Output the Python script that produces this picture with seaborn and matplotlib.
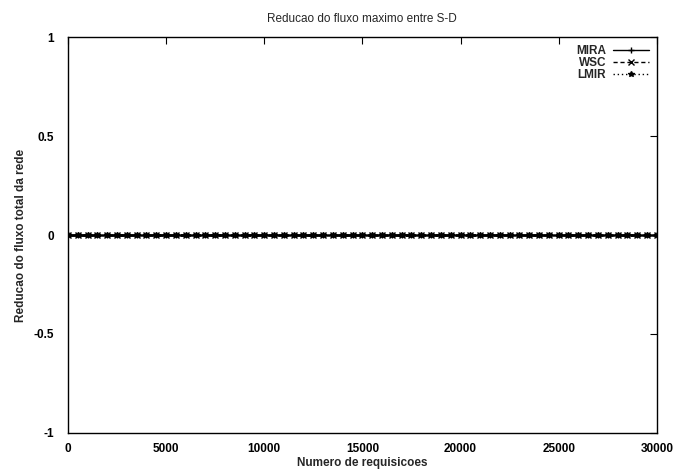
import matplotlib
matplotlib.use("Agg")
import matplotlib.pyplot as plt
import seaborn as sns
import pandas as pd

# Number of requests at which the reduction was sampled
requisicoes = [
    0, 500, 1000, 1500, 2000, 2500, 3000, 3500, 4000, 4500,
    5000, 5500, 6000, 6500, 7000, 7500, 8000, 8500, 9000, 9500,
    10000, 10500, 11000, 11500, 12000, 12500, 13000, 13500, 14000, 14500,
    15000, 15500, 16000, 16500, 17000, 17500, 18000, 18500, 19000, 19500,
    20000, 20500, 21000, 21500, 22000, 22500, 23000, 23500, 24000, 24500,
    25000, 25500, 26000, 26500, 27000, 27500, 28000, 28500, 29000, 29500,
    30000,
]

# Reduction of the total network flow for each algorithm
mira = [
    0, 0, 0, 0, 0, 0, 0, 0, 0, 0, 0, 0, 0, 0, 0, 0, 0, 0, 0, 0,
    0, 0, 0, 0, 0, 0, 0, 0, 0, 0, 0, 0, 0, 0, 0, 0, 0, 0, 0, 0,
    0, 0, 0, 0, 0, 0, 0, 0, 0, 0, 0, 0, 0, 0, 0, 0, 0, 0, 0, 0, 0,
]
wsc = [
    0, 0, 0, 0, 0, 0, 0, 0, 0, 0, 0, 0, 0, 0, 0, 0, 0, 0, 0, 0,
    0, 0, 0, 0, 0, 0, 0, 0, 0, 0, 0, 0, 0, 0, 0, 0, 0, 0, 0, 0,
    0, 0, 0, 0, 0, 0, 0, 0, 0, 0, 0, 0, 0, 0, 0, 0, 0, 0, 0, 0, 0,
]
lmir = [
    0, 0, 0, 0, 0, 0, 0, 0, 0, 0, 0, 0, 0, 0, 0, 0, 0, 0, 0, 0,
    0, 0, 0, 0, 0, 0, 0, 0, 0, 0, 0, 0, 0, 0, 0, 0, 0, 0, 0, 0,
    0, 0, 0, 0, 0, 0, 0, 0, 0, 0, 0, 0, 0, 0, 0, 0, 0, 0, 0, 0, 0,
]

algoritmos = ["MIRA", "WSC", "LMIR"]
marcadores = {"MIRA": "+", "WSC": "x", "LMIR": "*"}
tracos = {"MIRA": "", "WSC": (3, 2), "LMIR": (1, 2)}
x_ticks = [0, 5000, 10000, 15000, 20000, 25000, 30000]
y_ticks = [-1, -0.5, 0, 0.5, 1]
y_tick_labels = ["-1", "-0.5", "0", "0.5", "1"]

sns.set_theme(style="white")
plt.rcParams["font.family"] = ["Liberation Sans", "DejaVu Sans"]

df = pd.DataFrame({
    "req": requisicoes * 3,
    "val": mira + wsc + lmir,
    "alg": ["MIRA"] * len(mira) + ["WSC"] * len(wsc) + ["LMIR"] * len(lmir),
})

fig = plt.figure(figsize=(6.75, 4.71), dpi=100)
ax = fig.add_axes([0.1007, 0.0807, 0.8723, 0.8407])

for name in algoritmos:
    sns.lineplot(
        data=df[df["alg"] == name], x="req", y="val",
        hue="alg", style="alg", palette={name: "black"},
        markers={name: marcadores[name]}, dashes={name: tracos[name]},
        linewidth=1.8, markersize=4, markeredgewidth=1.0,
        markeredgecolor="black", ax=ax,
    )

ax.set_xlim(0, 30000)
ax.set_ylim(-1, 1)
ax.set_xticks(x_ticks)
ax.set_xticklabels([str(t) for t in x_ticks])
ax.set_yticks(y_ticks)
ax.set_yticklabels(y_tick_labels)
ax.tick_params(direction="in", length=5, width=0.8, top=True, right=True,
               labelsize=8.5, colors="black")
ax.tick_params(axis="x", pad=7)
ax.tick_params(axis="y", pad=10)
for lbl in ax.get_xticklabels() + ax.get_yticklabels():
    lbl.set_fontweight("bold")
for sp in ax.spines.values():
    sp.set_color("black")
    sp.set_linewidth(1.0)

ax.set_title("Reducao do fluxo maximo entre S-D", fontsize=8.5, pad=11)
ax.set_xlabel("Numero de requisicoes", fontsize=8.5, fontweight="bold", labelpad=1.5)
ax.set_ylabel("Reducao do fluxo total da rede", fontsize=8.5, fontweight="bold", labelpad=5)

handles, labels = ax.get_legend_handles_labels()
leg = ax.legend(handles, labels, loc="upper right", frameon=False, fontsize=8.5,
                markerfirst=False, handlelength=3.0, handletextpad=0.6,
                labelspacing=0.0, borderaxespad=0.3)
for h in leg.legend_handles:
    h.set_linewidth(1.0)
for t in leg.get_texts():
    t.set_fontweight("bold")

fig.savefig("out.png", dpi=100)
